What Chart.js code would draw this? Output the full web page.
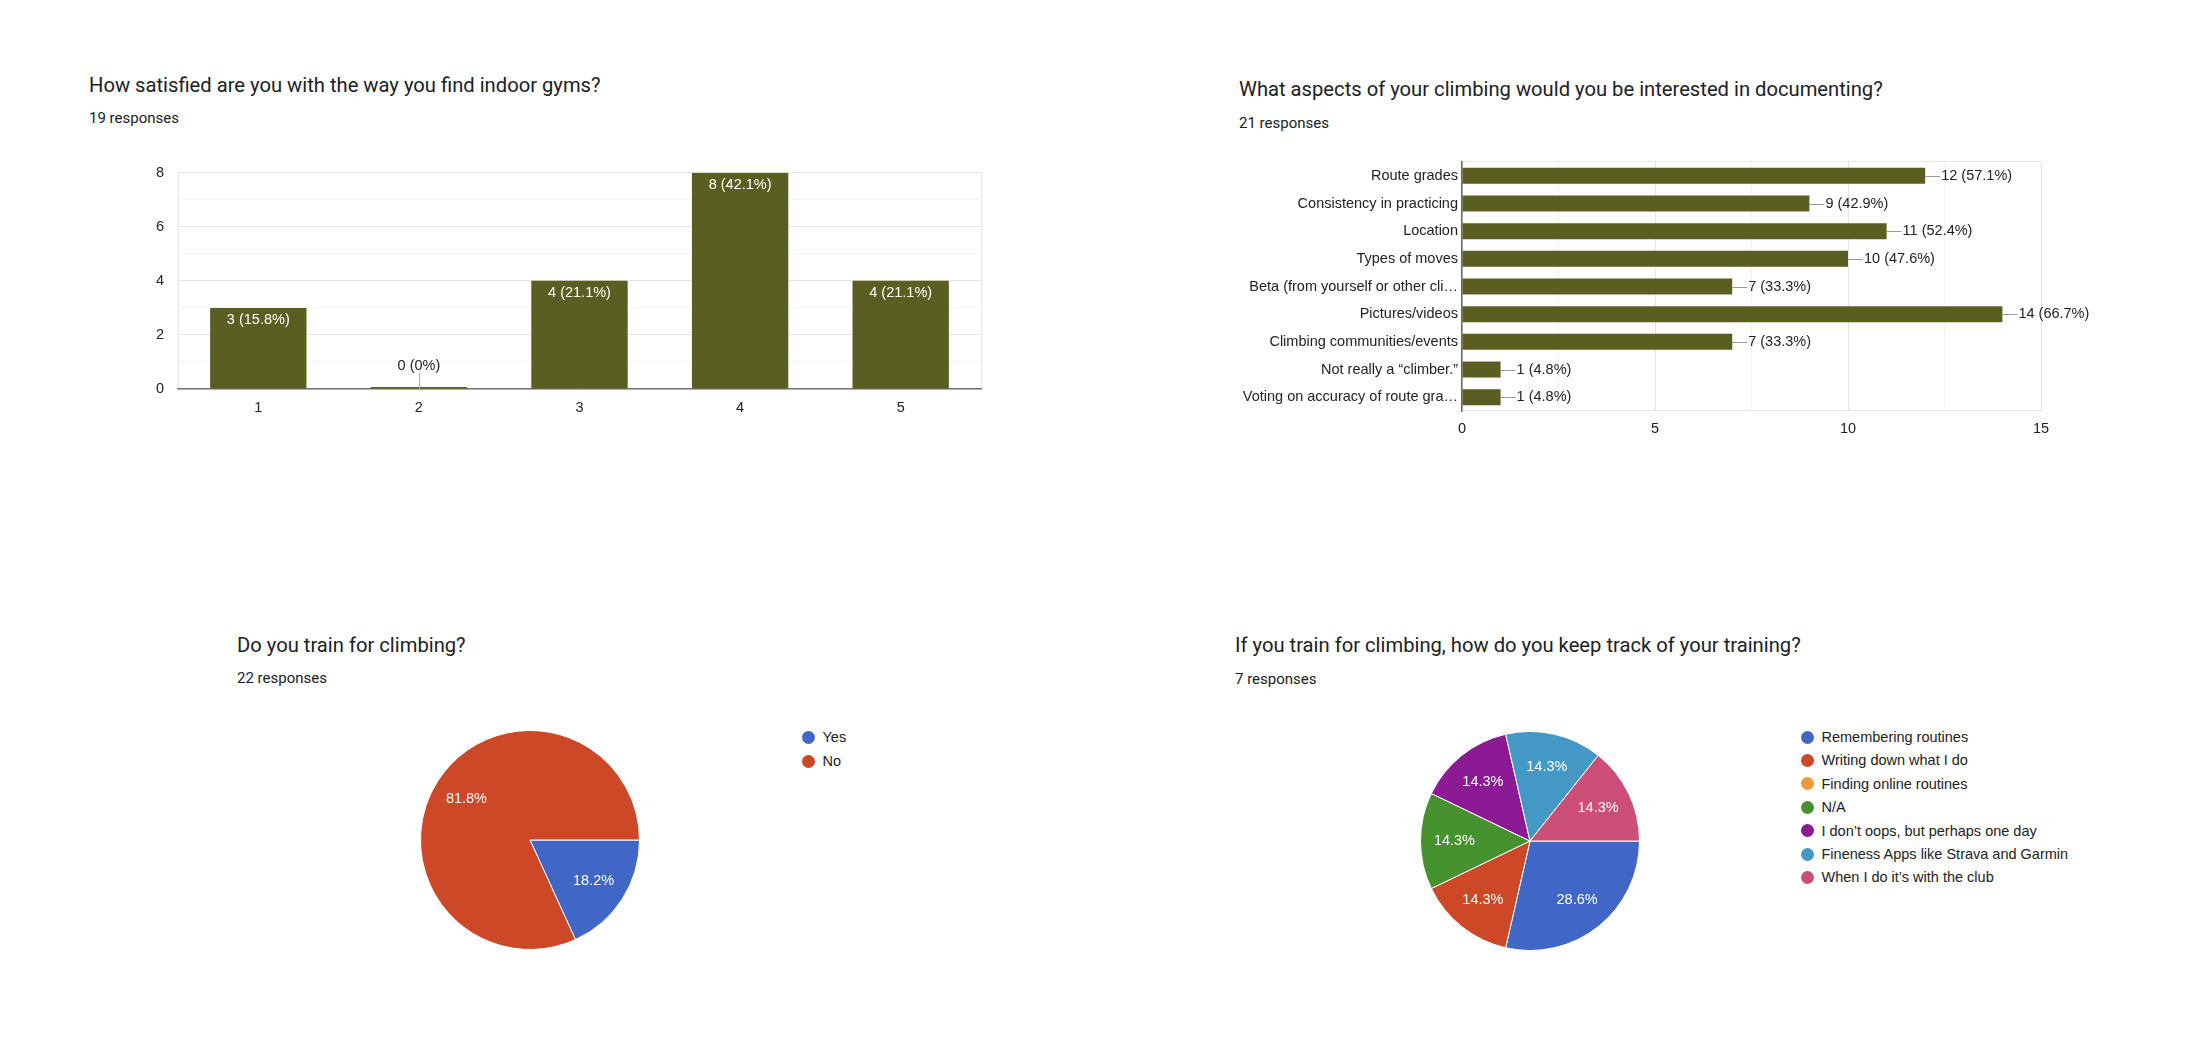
<!DOCTYPE html>
<html><head><meta charset="utf-8">
<script src="https://cdn.jsdelivr.net/npm/chart.js@4"></script>
<style>
html,body{margin:0;padding:0;background:#fff;}
body{width:2210px;height:1060px;position:relative;overflow:hidden;font-family:Roboto,'Liberation Sans',sans-serif;color:#202124;}
.t{position:absolute;font-size:20.2px;line-height:24px;white-space:nowrap;color:#202124;}
.s{position:absolute;font-size:15px;line-height:18px;white-space:nowrap;color:#202124;}
canvas{position:absolute;}
.lgi{position:absolute;font-family:'Liberation Sans',Arial,sans-serif;font-size:14.5px;line-height:20px;height:20px;color:#222;white-space:nowrap;}
.dot{position:absolute;width:13px;height:13px;border-radius:50%;top:3.5px;left:0;}
</style></head>
<body>
<div class="t" style="left:89px;top:73px;">How satisfied are you with the way you find indoor gyms?</div>
<div class="s" style="left:89px;top:109px;">19 responses</div>
<div class="t" style="left:1239px;top:77px;">What aspects of your climbing would you be interested in documenting?</div>
<div class="s" style="left:1239px;top:114px;">21 responses</div>
<div class="t" style="left:237px;top:633px;">Do you train for climbing?</div>
<div class="s" style="left:237px;top:669px;">22 responses</div>
<div class="t" style="left:1235px;top:633px;">If you train for climbing, how do you keep track of your training?</div>
<div class="s" style="left:1235px;top:670px;">7 responses</div>

<canvas id="c1" width="960" height="290" style="left:60px;top:150px;width:960px;height:290px;"></canvas>
<canvas id="c2" width="960" height="320" style="left:1200px;top:140px;width:960px;height:320px;"></canvas>
<canvas id="c3" width="240" height="240" style="left:410px;top:720px;width:240px;height:240px;"></canvas>
<canvas id="c4" width="240" height="240" style="left:1410px;top:721px;width:240px;height:240px;"></canvas>
<div id="lg3"></div>
<div id="lg4"></div>

<script>
// ---- data ----
const gymCategories = ['1', '2', '3', '4', '5'];
const gymCounts = [3, 0, 4, 8, 4];
const gymPercents = [15.8, 0, 21.1, 42.1, 21.1];
const gymTickLabels = [0, 2, 4, 6, 8];

const docCategories = ['Route grades', 'Consistency in practicing', 'Location', 'Types of moves',
  'Beta (from yourself or other cli…', 'Pictures/videos', 'Climbing communities/events',
  'Not really a \u201cclimber.\u201d', 'Voting on accuracy of route gra…'];
const docCounts = [12, 9, 11, 10, 7, 14, 7, 1, 1];
const docPercents = [57.1, 42.9, 52.4, 47.6, 33.3, 66.7, 33.3, 4.8, 4.8];
const docTickLabels = [0, 5, 10, 15];

const trainLabels = ['Yes', 'No'];
const trainCounts = [4, 18];
const trainPercents = [18.2, 81.8];

const trackLabels = ['Remembering routines', 'Writing down what I do', 'Finding online routines', 'N/A',
  'I don\u2019t oops, but perhaps one day', 'Fineness Apps like Strava and Garmin', 'When I do it\u2019s with the club'];
const trackCounts = [2, 1, 0, 1, 1, 1, 1];
const trackPercents = [28.6, 14.3, 0, 14.3, 14.3, 14.3, 14.3];

const barColor = '#5b5e21';
const pieColors = ['#4167c6', '#cc4827', '#f09a37', '#46922f', '#8b1a94', '#4498c6', '#cc4f77'];

// ---- defaults ----
Chart.defaults.font.family = "'Liberation Sans', Arial, sans-serif";
Chart.defaults.font.size = 14.5;
Chart.defaults.color = '#222';
const FONT = "14.5px 'Liberation Sans', Arial, sans-serif";
const major = '#e6e6e6', minor = '#f3f3f3';

// ---- plugins for value labels ----
const vbarLabels = {
  id: 'vbarLabels',
  afterDatasetsDraw(chart) {
    const ctx = chart.ctx;
    const meta = chart.getDatasetMeta(0);
    const yScale = chart.scales.y;
    ctx.save();
    ctx.font = FONT;
    ctx.textAlign = 'center';
    ctx.textBaseline = 'middle';
    meta.data.forEach((bar, i) => {
      const txt = gymCounts[i] + ' (' + gymPercents[i] + '%)';
      if (gymCounts[i] === 0) {
        const base = yScale.getPixelForValue(0);
        ctx.strokeStyle = '#aaa'; ctx.lineWidth = 1;
        ctx.beginPath(); ctx.moveTo(Math.round(bar.x) + 0.5, base); ctx.lineTo(Math.round(bar.x) + 0.5, base - 16); ctx.stroke();
        ctx.fillStyle = '#222';
        ctx.fillText(txt, bar.x, base - 23);
      } else {
        ctx.fillStyle = '#fff';
        ctx.fillText(txt, bar.x, bar.y + 12);
      }
    });
    ctx.restore();
  }
};
const hbarLabels = {
  id: 'hbarLabels',
  afterDatasetsDraw(chart) {
    const ctx = chart.ctx;
    const meta = chart.getDatasetMeta(0);
    ctx.save();
    ctx.font = FONT;
    ctx.textAlign = 'left';
    ctx.textBaseline = 'middle';
    meta.data.forEach((bar, i) => {
      const y = Math.round(bar.y) + 0.5;
      ctx.strokeStyle = '#999'; ctx.lineWidth = 1;
      ctx.beginPath(); ctx.moveTo(bar.x, y); ctx.lineTo(bar.x + 15, y); ctx.stroke();
      ctx.fillStyle = '#222';
      ctx.fillText(docCounts[i] + ' (' + docPercents[i] + '%)', bar.x + 16, bar.y);
    });
    ctx.restore();
  }
};
function pieLabels(percents) {
  return {
    id: 'pieLabels',
    afterDatasetsDraw(chart) {
      const ctx = chart.ctx;
      const meta = chart.getDatasetMeta(0);
      ctx.save();
      ctx.font = FONT;
      ctx.fillStyle = '#fff';
      ctx.textAlign = 'center';
      ctx.textBaseline = 'middle';
      meta.data.forEach((arc, i) => {
        if (!percents[i]) return;
        const a = (arc.startAngle + arc.endAngle) / 2;
        const r = arc.outerRadius * 0.69;
        ctx.fillText(percents[i] + '%', arc.x + Math.cos(a) * r, arc.y + Math.sin(a) * r);
      });
      ctx.restore();
    }
  };
}

// ---- chart 1: vertical bars ----
new Chart(document.getElementById('c1'), {
  type: 'bar',
  data: { labels: gymCategories, datasets: [{ data: gymCounts, backgroundColor: barColor, barPercentage: 0.6, categoryPercentage: 1.0, minBarLength: 2 }] },
  options: {
    responsive: false, animation: false, devicePixelRatio: 1, events: [],
    layout: { padding: { top: 20, right: 39, left: 0, bottom: 0 } },
    plugins: { legend: { display: false }, tooltip: { enabled: false } },
    scales: {
      x: {
        grid: { drawTicks: false, color: c => (c.index === 0 || c.index === undefined) ? major : 'rgba(0,0,0,0)' },
        border: { color: '#777', width: 1.5 },
        ticks: { padding: 10, color: '#222' },
        afterFit: s => { s.height = 51; }
      },
      y: {
        min: 0, max: 8,
        grid: { drawTicks: false, color: c => (c.tick && c.tick.value % 2 === 0) ? major : minor },
        border: { display: false },
        ticks: { stepSize: 1, autoSkip: false, padding: 14, color: '#222', callback: v => gymTickLabels.includes(v) ? String(v) : '' },
        afterFit: s => { s.width = 118; }
      }
    }
  },
  plugins: [vbarLabels]
});

// ---- chart 2: horizontal bars ----
new Chart(document.getElementById('c2'), {
  type: 'bar',
  data: { labels: docCategories, datasets: [{ data: docCounts, backgroundColor: barColor, barPercentage: 0.58, categoryPercentage: 1.0 }] },
  options: {
    indexAxis: 'y',
    responsive: false, animation: false, devicePixelRatio: 1, events: [],
    layout: { padding: { top: 22, right: 119, left: 0, bottom: 0 } },
    plugins: { legend: { display: false }, tooltip: { enabled: false } },
    scales: {
      x: {
        min: 0, max: 15,
        grid: { drawTicks: false, color: c => (c.tick && c.tick.value % 5 === 0) ? major : minor },
        border: { display: false },
        ticks: { stepSize: 2.5, autoSkip: false, padding: 9, color: '#222', maxRotation: 0, callback: v => docTickLabels.includes(v) ? String(v) : '' },
        afterFit: s => { s.height = 49; }
      },
      y: {
        grid: { drawTicks: false, color: c => (c.index === 0 || c.index === undefined) ? major : 'rgba(0,0,0,0)' },
        border: { color: '#666', width: 1.5 },
        ticks: { autoSkip: false, padding: 4, color: '#222' },
        afterFit: s => { s.width = 262; }
      }
    }
  },
  plugins: [hbarLabels]
});

// ---- pies ----
function pie(id, labels, counts, percents) {
  new Chart(document.getElementById(id), {
    type: 'pie',
    data: { labels: labels, datasets: [{ data: counts, backgroundColor: pieColors.slice(0, counts.length), borderColor: '#fff', borderWidth: 1, hoverOffset: 0 }] },
    options: {
      responsive: false, animation: false, devicePixelRatio: 1, events: [],
      rotation: 90,
      layout: { padding: 10 },
      plugins: { legend: { display: false }, tooltip: { enabled: false } }
    },
    plugins: [pieLabels(percents)]
  });
}
pie('c3', trainLabels, trainCounts, trainPercents);
pie('c4', trackLabels, trackCounts, trackPercents);

// ---- legends ----
function legend(id, labels, dotX, y0, step) {
  const host = document.getElementById(id);
  labels.forEach((lab, i) => {
    const d = document.createElement('div');
    d.className = 'lgi';
    d.style.left = (dotX - 6.5) + 'px';
    d.style.top = (y0 + i * step - 10) + 'px';
    d.style.paddingLeft = '21px';
    const dot = document.createElement('span');
    dot.className = 'dot';
    dot.style.background = pieColors[i];
    d.appendChild(dot);
    d.appendChild(document.createTextNode(lab));
    host.appendChild(d);
  });
}
legend('lg3', trainLabels, 808, 737, 24);
legend('lg4', trackLabels, 1807, 737, 23.4);
</script>
</body></html>
